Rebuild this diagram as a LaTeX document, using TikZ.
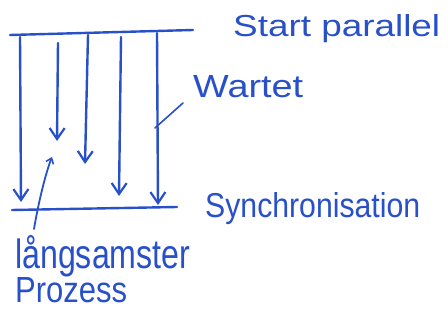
\documentclass[tikz,border=0pt]{standalone}
\usepackage{fontspec}
\setmainfont{Liberation Sans}
\usetikzlibrary{arrows.meta}
\definecolor{handblue}{RGB}{40,80,200}
\newcommand{\hwtext}[3]{\resizebox{#1}{#2}{#3}}
\begin{document}
\begin{tikzpicture}[x=1pt,y=-1pt,
  ink/.style={draw=handblue,line width=2.4pt,line cap=round,line join=round},
  flow/.style={ink,-{Straight Barb[length=11pt,width=15pt,line width=2.2pt]}},
  lbl/.style={text=handblue,inner sep=0pt,anchor=base west}]
\useasboundingbox[fill=white] (0,0) rectangle (448,323);
% bars
\coordinate (tl) at (10,35);
\coordinate (tr) at (193,30);
\coordinate (bl) at (12,210);
\coordinate (br) at (177,207);
\draw[ink] (tl) -- (tr);
\draw[ink] (bl) -- (br);
% process arrows
\coordinate (a1s) at (20,37); \coordinate (a1e) at (21,202);
\coordinate (a2s) at (58,43); \coordinate (a2e) at (57,141);
\coordinate (a3s) at (88,35); \coordinate (a3e) at (85,164);
\coordinate (a4s) at (121,37); \coordinate (a4e) at (119,196);
\coordinate (a5s) at (157,33); \coordinate (a5e) at (158,205);
\draw[flow] (a1s) -- (a1e);
\draw[flow] (a2s) -- (a2e);
\draw[flow] (a3s) -- (a3e);
\draw[flow] (a4s) -- (a4e);
\draw[flow] (a5s) -- (a5e);
% labels
\node[lbl] (start) at (233,37) {\hwtext{207pt}{22pt}{Start parallel}};
\node[lbl] (wartet) at (193,98) {\hwtext{110pt}{22pt}{Wartet}};
\node[lbl] (sync) at (205,218) {\hwtext{215pt}{25pt}{Synchronisation}};
\node[lbl] (lang) at (15,269) {\hwtext{175pt}{33pt}{långsamster}};
\node[lbl] (proz) at (15,303) {\hwtext{112pt}{25pt}{Prozess}};
% pointers
\coordinate (wp1) at (183,103);
\coordinate (wp2) at (155,128);
\draw[ink,line width=1.6pt] (wp1) -- (wp2);
\coordinate (lp1) at (34,229);
\coordinate (lp2) at (52,157);
\draw[ink,line width=1.8pt,-{Straight Barb[length=5pt,width=8pt,line width=1.6pt]}]
  (lp1) .. controls (38,205) and (45,175) .. (lp2);
\end{tikzpicture}
\end{document}
